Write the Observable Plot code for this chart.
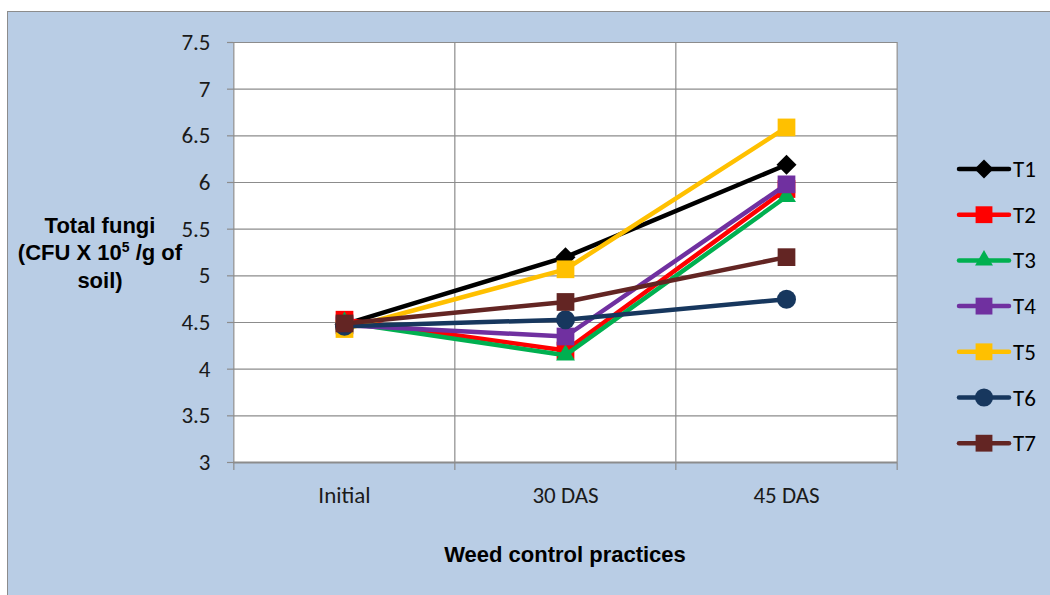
<!DOCTYPE html>
<html>
<head>
<meta charset="utf-8">
<script src="https://cdn.jsdelivr.net/npm/d3@7"></script>
<script src="https://cdn.jsdelivr.net/npm/@observablehq/plot@0.6"></script>
<style>
  html, body { margin: 0; padding: 0; width: 1050px; height: 595px; overflow: hidden; background: #ffffff; }
  #frame { position: absolute; left: 7px; top: 11px; width: 1060px; height: 600px; background: #b9cde5; border: 1px solid #8c8c8c; box-sizing: border-box; }
  #chart { position: absolute; left: 0; top: 0; }
  #ytitle { position: absolute; left: 0px; top: 213px; width: 200px; text-align: center; font: bold 22px "Liberation Sans", Arial, sans-serif; line-height: 26.5px; color: #000; }
  #ytitle sup { font-size: 14px; vertical-align: 0; position: relative; top: -8px; }
  #xtitle { position: absolute; left: 315px; width: 500px; top: 542px; text-align: center; font: bold 22px "Liberation Sans", Arial, sans-serif; color: #000; }
  #legend { position: absolute; left: 0; top: 0; }
</style>
</head>
<body>
<div id="frame"></div>
<div id="chart"></div>
<div id="ytitle">Total fungi<br>(CFU X 10<sup>5</sup> /g of<br>soil)</div>
<div id="xtitle">Weed control practices</div>
<script>
// ---- data ----
const categories = ["Initial", "30 DAS", "45 DAS"];
const seriesNames = ["T1", "T2", "T3", "T4", "T5", "T6", "T7"];
const T1 = [4.48, 5.20, 6.19];
const T2 = [4.53, 4.20, 5.93];
const T3 = [4.50, 4.15, 5.85];
const T4 = [4.47, 4.35, 5.98];
const T5 = [4.43, 5.07, 6.59];
const T6 = [4.46, 4.53, 4.75];
const T7 = [4.49, 4.72, 5.20];
const yTicks = [3, 3.5, 4, 4.5, 5, 5.5, 6, 6.5, 7, 7.5];

// ---- styles ----
const seriesValues = [T1, T2, T3, T4, T5, T6, T7];
const colors = ["#000000", "#ff0000", "#00b050", "#7030a0", "#ffc000", "#17375e", "#632523"];
const symbols = ["diamond2", "square", "triangle", "square", "square", "circle", "square"];
const radii = [9, 10, 7, 10, 10, 9.5, 10];

const rows = [];
seriesNames.forEach((s, i) => categories.forEach((c, j) => rows.push({series: s, cat: c, value: seriesValues[i][j]})));

const W = 1050, H = 595;
const mL = 233, mR = 153, mT = 42, mB = 133;
const step = (W - mL - mR) / categories.length;
const font = '"Carlito", "Open Sans", "Liberation Sans", sans-serif';
const fs = 23;

const marks = [
  Plot.frame({fill: "#ffffff", stroke: null}),
  Plot.ruleY(yTicks, {stroke: "#8c8c8c", strokeWidth: 1.2}),
  Plot.ruleX(categories, {x: d => d, dx: -step / 2, stroke: "#8c8c8c", strokeWidth: 1.2, y1: 7.5, y2: 3, insetBottom: -8}),
  Plot.ruleX([categories[categories.length - 1]], {x: d => d, dx: step / 2, stroke: "#8c8c8c", strokeWidth: 1.2, y1: 7.5, y2: 3, insetBottom: -8}),
  Plot.ruleY([3], {stroke: "#8c8c8c", strokeWidth: 2}),
  Plot.axisY({ticks: yTicks, tickSize: 6, tickPadding: 17, tickFormat: d => String(d), stroke: "#8c8c8c", strokeWidth: 1.2, fill: "#1a1a1a", fontSize: fs}),
  Plot.axisX({tickSize: 0, tickPadding: 24, fill: "#1a1a1a", fontSize: fs})
];
seriesNames.forEach((s, i) => {
  const d = rows.filter(r => r.series === s);
  marks.push(Plot.line(d, {x: "cat", y: "value", stroke: colors[i], strokeWidth: 4.5}));
  marks.push(Plot.dot(d, {x: "cat", y: "value", symbol: () => symbols[i], fill: colors[i], stroke: null, r: radii[i]}));
});

const chart = Plot.plot({
  width: W, height: H,
  marginLeft: mL, marginRight: mR, marginTop: mT, marginBottom: mB,
  style: {background: "transparent", fontFamily: font, fontSize: fs + "px", overflow: "visible"},
  x: {type: "point", domain: categories, padding: 0.5, axis: null, label: null},
  y: {domain: [3, 7.5], axis: null, label: null},
  symbol: {type: "identity"},
  marks
});
document.getElementById("chart").appendChild(chart);

// ---- legend ----
const leg = d3.select("body").append("svg").attr("id", "legend").attr("width", W).attr("height", H)
  .style("position", "absolute").style("left", 0).style("top", 0);
const legY0 = 169, legStep = 45.7;
seriesNames.forEach((s, i) => {
  const g = leg.append("g").attr("transform", `translate(0,${legY0 + i * legStep})`);
  g.append("line").attr("x1", 959).attr("x2", 1009).attr("y1", 0).attr("y2", 0)
    .attr("stroke", colors[i]).attr("stroke-width", 4.5).attr("stroke-linecap", "round");
  const symMap = {diamond2: d3.symbolDiamond2, square: d3.symbolSquare, triangle: d3.symbolTriangle, circle: d3.symbolCircle};
  const r = radii[i] * 0.95;
  g.append("path").attr("d", d3.symbol(symMap[symbols[i]], Math.PI * r * r)())
    .attr("transform", "translate(984,0)").attr("fill", colors[i]);
  g.append("text").attr("x", 1013).attr("y", 0).attr("dy", "0.35em")
    .attr("font-family", font).attr("font-size", fs).attr("fill", "#000").text(s);
});
</script>
</body>
</html>
